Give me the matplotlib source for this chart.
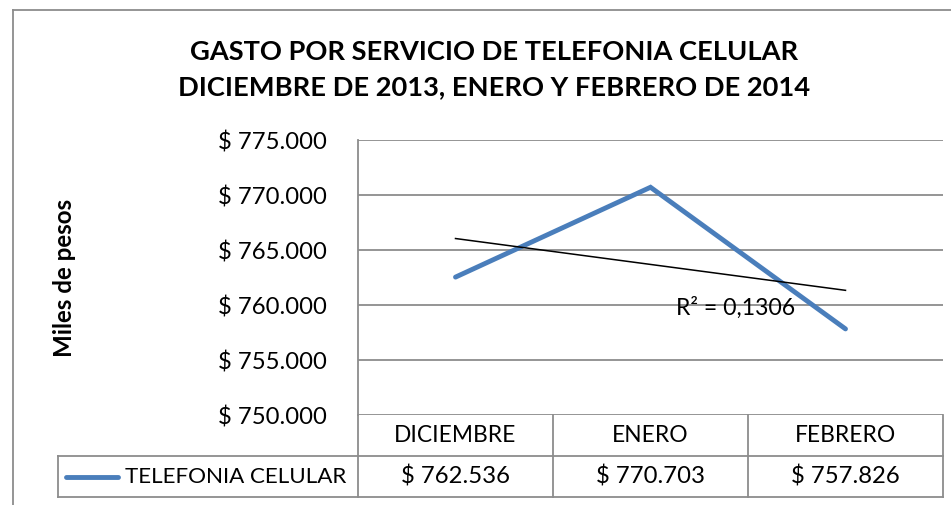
import matplotlib
matplotlib.use("Agg")
import matplotlib.pyplot as plt
import numpy as np
from matplotlib.lines import Line2D

# Chart data
months = ["DICIEMBRE", "ENERO", "FEBRERO"]
gasto = [762536, 770703, 757826]
series_name = "TELEFONIA CELULAR"
y_ticks = [750000, 755000, 760000, 765000, 770000, 775000]
title = "GASTO POR SERVICIO DE TELEFONIA CELULAR\nDICIEMBRE DE 2013, ENERO Y FEBRERO DE 2014"

W, H = 951, 505
FONT = "Lato"
BLUE = "#4A7EBB"
GRID = "#8C8C8C"
NUM_SIZE = 17.2   # size for numbers
TXT_SIZE = 16.4   # size for upper case labels


def pesos(v):
    # Spanish style thousands separator
    return "$ " + f"{v:,.0f}".replace(",", ".")


def fx(px):
    return px / W


def fy(py):
    return 1 - py / H


fig = plt.figure(figsize=(W / 100, H / 100), dpi=100)
plt.rcParams["font.family"] = [FONT, "DejaVu Sans"]

# plot area in pixels: x 358..943, y 140..415
ax = fig.add_axes([fx(358), fy(415), fx(943 - 358), (415 - 140) / H])
x = np.arange(1, len(months) + 1)
ax.plot(x, gasto, color=BLUE, lw=3.5, solid_capstyle="round",
        solid_joinstyle="miter", zorder=3)

# linear trend line
coef = np.polyfit(x, gasto, 1)
fit = np.polyval(coef, x)
ss_res = np.sum((np.array(gasto) - fit) ** 2)
ss_tot = np.sum((np.array(gasto) - np.mean(gasto)) ** 2)
r2 = 1 - ss_res / ss_tot
ax.plot(x, fit, color="black", lw=1.1, zorder=4)
ax.text(2.13, 759750, "R² = " + f"{r2:.4f}".replace(".", ","), fontsize=16.6,
        ha="left", va="center", zorder=5)

ax.set_xlim(0.5, len(months) + 0.5)
ax.set_ylim(y_ticks[0], y_ticks[-1])
ax.set_yticks(y_ticks)
ax.set_yticklabels([pesos(v) for v in y_ticks], fontsize=NUM_SIZE)
ax.tick_params(axis="y", length=0, pad=22.3)
ax.set_xticks([])
ax.grid(axis="y", color=GRID, lw=1.3)
for s in ["top", "right", "bottom"]:
    ax.spines[s].set_visible(False)
ax.spines["left"].set_color(GRID)
ax.spines["left"].set_linewidth(1.3)

# outer chart border (left and top visible)
fig.add_artist(Line2D([fx(13), fx(13)], [fy(505), fy(10)], color=GRID, lw=1.3))
fig.add_artist(Line2D([fx(13), fx(951)], [fy(10), fy(10)], color=GRID, lw=1.3))

fig.text(fx(494), fy(69.5), title, ha="center", va="center", fontsize=19.6,
         fontweight="bold", linespacing=1.58)
fig.text(fx(64), fy(278), "Miles de pesos", rotation=90, ha="center", va="center",
         fontsize=17.4, fontweight="bold")

# data table under the plot
col_edges = [358, 553, 748, 943]
row_top, row_mid, row_bot = 415, 456, 497
for xe in col_edges:
    fig.add_artist(Line2D([fx(xe), fx(xe)], [fy(row_top), fy(row_bot)], color=GRID, lw=1.3))
fig.add_artist(Line2D([fx(58), fx(58)], [fy(row_mid), fy(row_bot)], color=GRID, lw=1.3))
fig.add_artist(Line2D([fx(58), fx(943)], [fy(row_mid), fy(row_mid)], color=GRID, lw=1.3))
fig.add_artist(Line2D([fx(58), fx(943)], [fy(row_bot), fy(row_bot)], color=GRID, lw=1.3))
for i, (m, v) in enumerate(zip(months, gasto)):
    cx = (col_edges[i] + col_edges[i + 1]) / 2
    fig.text(fx(cx), fy((row_top + row_mid) / 2), m, ha="center", va="center", fontsize=TXT_SIZE)
    fig.text(fx(cx), fy((row_mid + row_bot) / 2), pesos(v), ha="center", va="center", fontsize=NUM_SIZE)
fig.add_artist(Line2D([fx(66), fx(118)], [fy(477), fy(477)], color=BLUE, lw=3.5,
                      solid_capstyle="round"))
fig.text(fx(125), fy(477), series_name, ha="left", va="center", fontsize=16.1)

fig.savefig("out.png", dpi=100)
